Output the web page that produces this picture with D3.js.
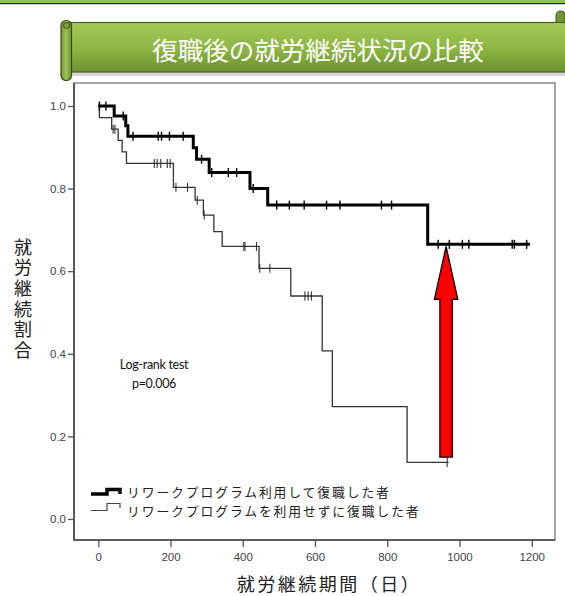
<!DOCTYPE html>
<html><head><meta charset="utf-8">
<script src="https://cdn.jsdelivr.net/npm/d3@7/dist/d3.min.js"></script>
<style>body{margin:0;background:#fff}svg{display:block}</style>
</head><body>
<script>
// ---- data ----
const titleText = "復職後の就労継続状況の比較";
const yTitle = "就労継続割合";
const xTitle = "就労継続期間（日）";
const seriesNames = ["リワークプログラム利用して復職した者", "リワークプログラムを利用せずに復職した者"];
const xTicks = [0, 200, 400, 600, 800, 1000, 1200];
const yTicks = [0.0, 0.2, 0.4, 0.6, 0.8, 1.0];
// series 1: rework program (event day, survival after event)
const reworkEvents = [[0,1.0],[44,0.976],[76,0.952],[82,0.927],[263,0.899],[272,0.871],[307,0.839],[420,0.800],[469,0.760],[912,0.665]];
const reworkEnd = 1195;
const reworkCensor = [3,21,69,96,166,175,197,235,286,314,360,383,429,494,529,570,632,669,784,812,941,972,1008,1026,1146,1152,1186];
// series 2: no program
const noneEvents = [[0,1.0],[3,0.972],[37,0.944],[55,0.917],[66,0.889],[78,0.861],[208,0.803],[268,0.772],[291,0.736],[320,0.696],[343,0.660],[445,0.607],[533,0.540],[620,0.407],[648,0.272],[855,0.137]];
const noneEnd = 970;
const noneCensor = [41,46,155,163,173,191,199,215,247,274,293,403,406,438,447,475,572,581,590,966];
const statLines = ["Log-rank test", "p=0.006"];
const arrowDay = 963, arrowFrom = 0.15, arrowTo = 0.66;

// ---- drawing ----
const W = 565, H = 596;
const svg = d3.select("body").append("svg").attr("width", W).attr("height", H);
const defs = svg.append("defs");
const g1 = defs.append("linearGradient").attr("id","gb").attr("x1",0).attr("y1",0).attr("x2",0).attr("y2",1);
g1.append("stop").attr("offset","0%").attr("stop-color","#a4c95a");
g1.append("stop").attr("offset","55%").attr("stop-color","#8cb542");
g1.append("stop").attr("offset","100%").attr("stop-color","#6a9130");
const g2 = defs.append("linearGradient").attr("id","gs").attr("x1",0).attr("y1",0).attr("x2",1).attr("y2",0);
g2.append("stop").attr("offset","0%").attr("stop-color","#6f9833");
g2.append("stop").attr("offset","50%").attr("stop-color","#9cc552");
g2.append("stop").attr("offset","100%").attr("stop-color","#6a9130");

// top strip
svg.append("rect").attr("x",0).attr("y",0).attr("width",W).attr("height",3).attr("fill","#8dc641");
svg.append("line").attr("x1",0).attr("x2",W).attr("y1",3.6).attr("y2",3.6).attr("stroke","#2a2a2a").attr("stroke-width",1.2);

// banner shadow
svg.append("rect").attr("x",70).attr("y",26).attr("width",500).attr("height",50).attr("fill","#bbb").attr("opacity",0.6);
// right top curl
svg.append("path").attr("d","M556,23 L556,16 Q556,11 561,11 Q565,11 565,15 L565,23 Z").attr("fill","#6f9833").attr("stroke","#3d4d1e").attr("stroke-width",1);
// banner body
svg.append("rect").attr("x",66).attr("y",22.5).attr("width",505).attr("height",49.5).attr("fill","url(#gb)").attr("stroke","#4a5c28").attr("stroke-width",1.2);
// left scroll
svg.append("rect").attr("x",61).attr("y",20.5).attr("width",10.5).attr("height",60).attr("rx",5).attr("fill","url(#gs)").attr("stroke","#3a4a1c").attr("stroke-width",1.2);
svg.append("circle").attr("cx",66.5).attr("cy",25.5).attr("r",3).attr("fill","#7ea23a").attr("stroke","#3a4a1c").attr("stroke-width",1);
svg.append("text").attr("x",318).attr("y",48).attr("text-anchor","middle").attr("dominant-baseline","central")
  .attr("font-family","'Noto Sans CJK JP'").attr("font-size",25.5).attr("fill","#fff").text(titleText);

// plot frame
const fx0 = 74, fx1 = 555, fy0 = 83, fy1 = 540;
svg.append("rect").attr("x",fx0).attr("y",fy0).attr("width",fx1-fx0).attr("height",fy1-fy0)
  .attr("fill","none").attr("stroke","#777").attr("stroke-width",1.3);
svg.append("path").attr("d",`M${fx0},${fy0}V${fy1}H${fx1}`).attr("fill","none").attr("stroke","#444").attr("stroke-width",1.6);

const x = d3.scaleLinear().domain([0,1200]).range([98.3,531.7]);
const y = d3.scaleLinear().domain([0,1]).range([519,106]);

const xAxis = svg.append("g").attr("transform",`translate(0,${fy1})`)
  .call(d3.axisBottom(x).tickValues(xTicks).tickSize(7).tickPadding(6).tickFormat(d3.format("d")));
const yAxis = svg.append("g").attr("transform",`translate(${fx0},0)`)
  .call(d3.axisLeft(y).tickValues(yTicks).tickSize(6).tickPadding(2).tickFormat(d3.format(".1f")));
[xAxis,yAxis].forEach(a=>{
  a.select(".domain").remove();
  a.selectAll("line").attr("stroke","#555").attr("stroke-width",1.3);
  a.selectAll("text").attr("font-family","'Liberation Sans',Arial,sans-serif").attr("font-size",11.5).attr("fill","#444");
});

// curves
function survAt(events, t){ let s=1; for(const [tt,v] of events){ if(tt<=t) s=v; } return s; }
const line = d3.line().x(d=>x(d[0])).y(d=>y(d[1])).curve(d3.curveStepAfter);
function drawSeries(events, end, censor, width, color, tickW){
  const pts = events.concat([[end, events[events.length-1][1]]]);
  svg.append("path").attr("d", line(pts)).attr("fill","none").attr("stroke",color).attr("stroke-width",width).attr("stroke-linejoin","miter");
  svg.append("g").selectAll("line").data(censor).join("line")
    .attr("x1",d=>x(d)).attr("x2",d=>x(d))
    .attr("y1",d=>y(survAt(events,d))-4.5).attr("y2",d=>y(survAt(events,d))+4.5)
    .attr("stroke",color).attr("stroke-width",tickW);
}
drawSeries(noneEvents, noneEnd, noneCensor, 1.3, "#333", 1.1);
drawSeries(reworkEvents, reworkEnd, reworkCensor, 3, "#000", 1.4);

// stats text
svg.append("g").selectAll("text").data(statLines).join("text")
  .attr("x",154).attr("y",(d,i)=>369+i*19).attr("text-anchor","middle")
  .attr("font-family","Lato, 'Open Sans', sans-serif").attr("font-size",12.5).attr("letter-spacing",-0.3).attr("fill","#111").text(d=>d);

// red arrow
const ax = x(arrowDay), ayTip = y(arrowTo), ayBot = y(arrowFrom);
const headBase = ayTip + 53, sw = 6.2, hw = 11.7;
svg.append("path").attr("d",`M${ax},${ayTip} L${ax+hw},${headBase} L${ax+sw},${headBase} L${ax+sw},${ayBot} L${ax-sw},${ayBot} L${ax-sw},${headBase} L${ax-hw},${headBase} Z`)
  .attr("fill","#ff0000").attr("stroke","#000").attr("stroke-width",1.3).attr("stroke-linejoin","miter");

// legend
const lg = svg.append("g");
lg.append("path").attr("d","M91,494 H107 V489.5 H120 V494").attr("fill","none").attr("stroke","#000").attr("stroke-width",3.5);
lg.append("path").attr("d","M91,510.5 H107 V503.5 H120 V508").attr("fill","none").attr("stroke","#444").attr("stroke-width",1.2);
lg.selectAll("text").data(seriesNames).join("text")
  .attr("x",127).attr("y",(d,i)=>491.5+i*18.6).attr("dominant-baseline","central")
  .attr("font-family","'Noto Sans CJK JP'").attr("font-size",12.8).attr("letter-spacing",1.9).attr("fill","#222").text(d=>d);

// axis titles
svg.append("text").attr("x",23).attr("y",238)
  .attr("font-family","'Noto Sans CJK JP'").attr("font-size",18).attr("fill","#222")
  .style("writing-mode","vertical-rl").style("glyph-orientation-vertical","0")
  .attr("letter-spacing",2.6).text(yTitle);
svg.append("text").attr("x",329).attr("y",583).attr("text-anchor","middle").attr("dominant-baseline","central")
  .attr("font-family","'Noto Sans CJK JP'").attr("font-size",18).attr("letter-spacing",2.5).attr("fill","#222").text(xTitle);
</script>
</body></html>
